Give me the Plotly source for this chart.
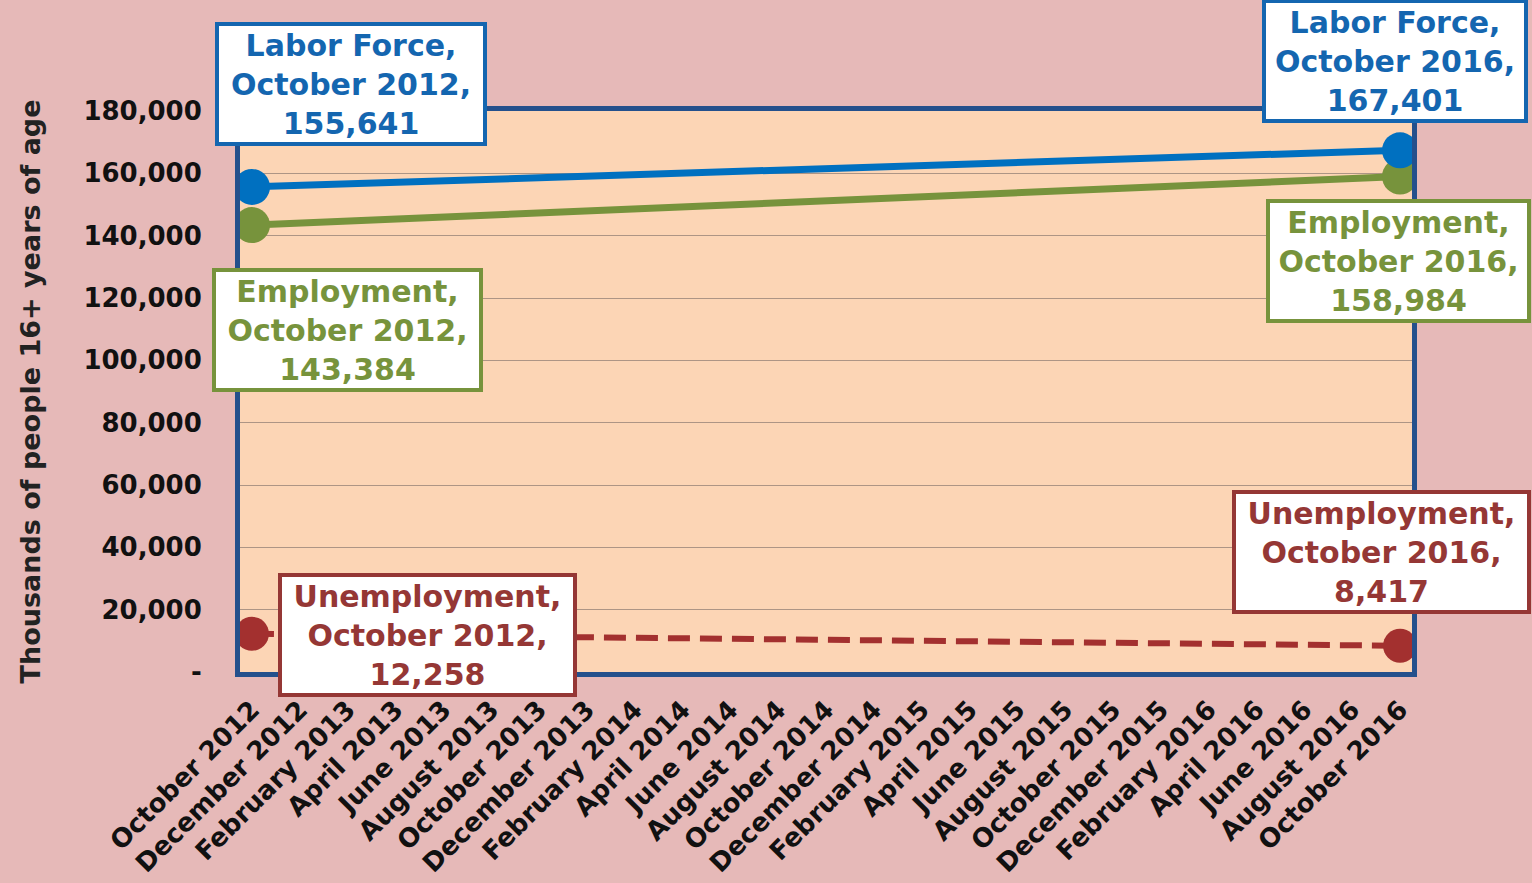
import plotly.graph_objects as go

MONTH_NAMES = ["January", "February", "March", "April", "May", "June", "July",
               "August", "September", "October", "November", "December"]
# Monthly categories: October 2012 ... October 2016
months = [f"{MONTH_NAMES[(9 + i) % 12]} {2012 + (9 + i) // 12}" for i in range(49)]

labor_force = [155641, 155880, 156130, 156370, 156620, 156860, 157100, 157350, 157590, 157840,
               158080, 158330, 158570, 158810, 159060, 159300, 159550, 159790, 160030, 160280,
               160520, 160770, 161010, 161260, 161500, 161740, 161990, 162230, 162480, 162720,
               162960, 163210, 163450, 163700, 163940, 164180, 164430, 164670, 164920, 165160,
               165400, 165650, 165890, 166140, 166380, 166620, 166870, 167110, 167401]
employment = [143384, 143710, 144030, 144360, 144680, 145010, 145330, 145660, 145980, 146310,
              146630, 146960, 147280, 147610, 147930, 148260, 148580, 148910, 149230, 149560,
              149880, 150210, 150530, 150860, 151180, 151510, 151830, 152160, 152480, 152810,
              153130, 153460, 153780, 154110, 154430, 154760, 155080, 155410, 155730, 156060,
              156380, 156710, 157030, 157360, 157680, 158010, 158330, 158660, 158984]
unemployment = [12258, 12170, 12090, 12010, 11930, 11850, 11770, 11690, 11610, 11530,
                11450, 11370, 11290, 11210, 11130, 11050, 10970, 10890, 10810, 10730,
                10650, 10570, 10490, 10410, 10330, 10250, 10170, 10090, 10010, 9930,
                9850, 9770, 9690, 9610, 9530, 9450, 9370, 9290, 9210, 9130,
                9050, 8970, 8890, 8810, 8730, 8650, 8570, 8490, 8417]

y_ticks = list(range(0, 180001, 20000))
y_tick_text = ["-" if v == 0 else f"{v:,}" for v in y_ticks]
x_ticks = months[::2]

FONT = "DejaVu Sans"
BLUE, BLUE_TXT = "#0070C0", "#1466B0"
GREEN, GREEN_TXT = "#77933C", "#77933C"
RED, RED_TXT = "#A3302F", "#953735"

series = [
    ("Unemployment", unemployment, RED, RED_TXT, 6, "22px,10px", 34),
    ("Employment", employment, GREEN, GREEN_TXT, 7, "solid", 36),
    ("Labor Force", labor_force, BLUE, BLUE_TXT, 7, "solid", 36),
]

fig = go.Figure()
for name, vals, color, tcolor, lw, dash, ms in series:
    sizes = [ms] + [0] * (len(vals) - 2) + [ms]
    fig.add_trace(go.Scatter(
        x=months, y=vals, name=name, mode="lines+markers",
        line=dict(color=color, width=lw, dash=dash),
        marker=dict(size=sizes, color=color, opacity=1, line=dict(width=0)),
        showlegend=False,
    ))

# label boxes: (series name, values, text colour, index, ax, ay, width)
labels = [
    ("Labor Force", labor_force, BLUE_TXT, 0, 99, -103, 264),
    ("Employment", employment, GREEN_TXT, 0, 96, 105, 263),
    ("Unemployment", unemployment, RED_TXT, 0, 176, 1, 291),
    ("Labor Force", labor_force, BLUE_TXT, -1, -5, -89, 258),
    ("Employment", employment, GREEN_TXT, -1, -2, 84, 257),
    ("Unemployment", unemployment, RED_TXT, -1, -19, -94, 291),
]
annotations = []
for name, vals, tcolor, idx, ax, ay, w in labels:
    annotations.append(dict(
        x=months[idx], y=vals[idx], xref="x", yref="y",
        text=f"{name},<br>{months[idx]},<br>{vals[idx]:,}",
        showarrow=True, arrowcolor="rgba(0,0,0,0)", arrowwidth=0.1,
        ax=ax, ay=ay, width=w, height=116, align="center",
        font=dict(family=FONT, size=30, color=tcolor, weight="bold"),
        bgcolor="white", bordercolor=tcolor, borderwidth=4, borderpad=0,
    ))

fig.update_layout(
    width=1532, height=883,
    margin=dict(l=240, r=120, t=111, b=211),
    paper_bgcolor="#E6B9B8",
    plot_bgcolor="#FCD5B5",
    font=dict(family=FONT, color="#111111"),
    annotations=annotations,
    xaxis=dict(
        type="category", range=[-0.5, 48.5], automargin=False,
        tickmode="array", tickvals=x_ticks, ticktext=x_ticks,
        tickangle=-45, tickfont=dict(family=FONT, size=26, color="#111111", weight="bold"),
        showgrid=False, showline=True, mirror=True, linecolor="#24508C", linewidth=5,
        layer="below traces", ticks="", ticklabelstandoff=7,
    ),
    yaxis=dict(
        range=[0, 180000], automargin=False,
        tickmode="array", tickvals=y_ticks, ticktext=y_tick_text,
        tickfont=dict(family=FONT, size=26, color="#111111", weight="bold"),
        showgrid=True, gridcolor="#AD9585", gridwidth=1, zeroline=False,
        showline=True, mirror=True, linecolor="#24508C", linewidth=5,
        layer="below traces", ticks="", ticklabelstandoff=28,
        title=dict(text="Thousands of people 16+ years of age", standoff=36,
                   font=dict(family=FONT, size=27, color="#222222", weight="bold")),
    ),
)

fig.write_html(
    "out.html",
    config={"displayModeBar": False},
    post_script="document.body.style.margin='0';document.body.style.overflow='hidden';",
)
